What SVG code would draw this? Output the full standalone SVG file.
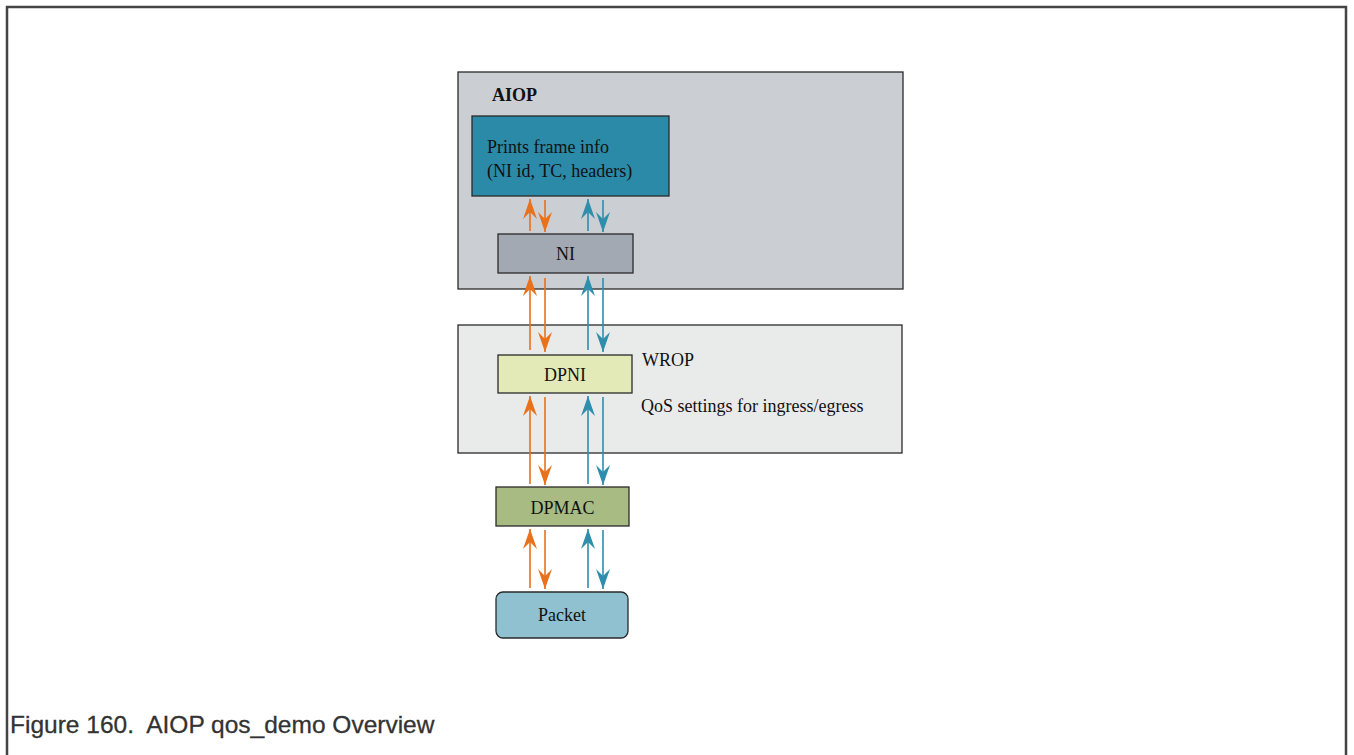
<svg xmlns="http://www.w3.org/2000/svg" width="1354" height="755" viewBox="0 0 1354 755">
<style>
.box{stroke:#2a2a2a;stroke-width:1.3}
.t{font-family:"Liberation Serif","Times New Roman",serif;font-size:18px;fill:#111}
.o{stroke:#e8711c;stroke-width:1.6;fill:none}
.b{stroke:#2e8eac;stroke-width:1.6;fill:none}
</style>
<defs>
<marker id="ao" markerUnits="userSpaceOnUse" markerWidth="22" markerHeight="16" refX="0" refY="0" viewBox="-21 -8 22 16" orient="auto"><path d="M0,0 L-20,-7 L-13,0 L-20,7 z" fill="#e8711c"/></marker>
<marker id="ab" markerUnits="userSpaceOnUse" markerWidth="22" markerHeight="16" refX="0" refY="0" viewBox="-21 -8 22 16" orient="auto"><path d="M0,0 L-20,-7 L-13,0 L-20,7 z" fill="#2e8eac"/></marker>
</defs>
<rect width="1354" height="755" fill="#fff"/>
<path d="M7,755 V7 H1346 V755" fill="none" stroke="#444" stroke-width="2.5"/>
<g id="aiop"><rect class="box" x="458" y="72" width="445" height="217" fill="#cbced3"/><text x="492" y="101" class="t" font-weight="bold">AIOP</text></g>
<g id="prints"><rect class="box" x="472" y="116" width="197" height="80" fill="#2b8aa8"/><text x="487" y="153" class="t">Prints frame info</text><text x="487" y="177" class="t">(NI id, TC, headers)</text></g>
<g id="ni"><rect class="box" x="498" y="234" width="135" height="39" fill="#a3a9b2"/><text x="565.5" y="260" class="t" text-anchor="middle">NI</text></g>
<g id="wrop"><rect class="box" x="458" y="325" width="444" height="128" fill="#e9eaea"/><text x="642" y="366" class="t">WROP</text><text x="641" y="412" class="t">QoS settings for ingress/egress</text></g>
<g id="dpni"><rect class="box" x="498" y="355" width="134" height="38" fill="#e3e9b7"/><text x="565" y="381" class="t" text-anchor="middle">DPNI</text></g>
<g id="dpmac"><rect class="box" x="496" y="487" width="133" height="39" fill="#a8bb82"/><text x="562.5" y="514" class="t" text-anchor="middle">DPMAC</text></g>
<g id="packet"><rect class="box" x="496" y="592" width="132" height="46" rx="7" fill="#8fc1d0"/><text x="562" y="621" class="t" text-anchor="middle">Packet</text></g>
<g id="connectors">
<path class="o" d="M530,231 V199" marker-end="url(#ao)"/>
<path class="o" d="M545,200 V232" marker-end="url(#ao)"/>
<path class="b" d="M588,231 V199" marker-end="url(#ab)"/>
<path class="b" d="M603,200 V232" marker-end="url(#ab)"/>
<path class="o" d="M530,350 V276" marker-end="url(#ao)"/>
<path class="o" d="M545,278 V352" marker-end="url(#ao)"/>
<path class="b" d="M588,350 V276" marker-end="url(#ab)"/>
<path class="b" d="M603,278 V352" marker-end="url(#ab)"/>
<path class="o" d="M530,484 V396" marker-end="url(#ao)"/>
<path class="o" d="M545,397 V485" marker-end="url(#ao)"/>
<path class="b" d="M588,484 V396" marker-end="url(#ab)"/>
<path class="b" d="M603,397 V485" marker-end="url(#ab)"/>
<path class="o" d="M530,588 V529" marker-end="url(#ao)"/>
<path class="o" d="M545,530 V589" marker-end="url(#ao)"/>
<path class="b" d="M588,588 V529" marker-end="url(#ab)"/>
<path class="b" d="M603,530 V589" marker-end="url(#ab)"/>
</g>
<text x="10" y="733" font-family="Liberation Sans,Arial,sans-serif" font-size="24.5" fill="#333" stroke="#333" stroke-width="0.3" xml:space="preserve">Figure 160.  AIOP qos_demo Overview</text>
</svg>
